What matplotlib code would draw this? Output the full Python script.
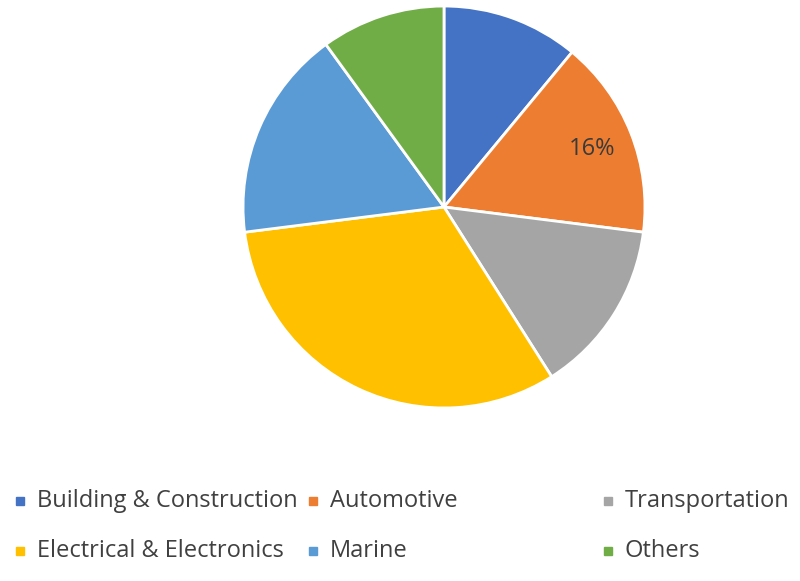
import matplotlib
matplotlib.use("Agg")
import matplotlib.pyplot as plt

# ===== Данные =====
labels = ["Building & Construction", "Automotive", "Transportation",
          "Electrical & Electronics", "Marine", "Others"]
shares = [11, 16, 14, 32, 17, 10]
colors = ["#4472C4", "#ED7D31", "#A5A5A5", "#FFC000", "#5B9BD5", "#70AD47"]
shown_label = "Automotive"

plt.rcParams["font.family"] = ["Open Sans", "DejaVu Sans"]

fig = plt.figure(figsize=(8, 5.81), dpi=100)
ax = fig.add_axes([0.555 - 0.25125, 0.6437 - 0.3459, 0.5025, 0.6918])


def pct_text(pct):
    # only one slice is labelled in the original
    if abs(pct - shares[labels.index(shown_label)]) < 0.01:
        return "%d%%" % round(pct)
    return ""


wedges, texts, autotexts = ax.pie(
    shares, colors=colors, startangle=90, counterclock=False,
    autopct=pct_text, pctdistance=0.79,
    wedgeprops=dict(edgecolor="white", linewidth=2),
    textprops=dict(color="#3a3a3a", fontsize=17),
)
ax.set_xlim(-1, 1)
ax.set_ylim(-1, 1)
ax.set_aspect("equal")
ax.axis("off")

# ===== Легенда =====
col_x = [20, 313, 608]
row_y = [501, 551]
for i, (lab, col) in enumerate(zip(labels, colors)):
    x = col_x[i % 3] / 800
    y = 1 - row_y[i // 3] / 581
    fig.patches.append(plt.Rectangle((x - 4 / 800, y - 4 / 581), 8 / 800, 8 / 581,
                                     transform=fig.transFigure, color=col))
    fig.text(x + 17 / 800, y, lab, fontsize=17, color="#404040",
             va="center", ha="left")

fig.savefig("out.png", dpi=100)
